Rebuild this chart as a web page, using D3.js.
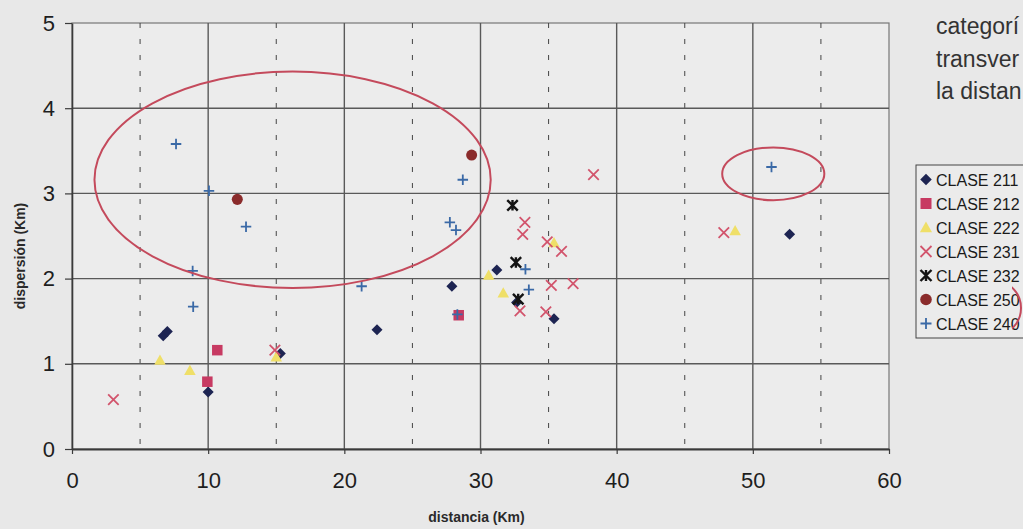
<!DOCTYPE html>
<html>
<head>
<meta charset="utf-8">
<script src="https://cdn.jsdelivr.net/npm/d3@7"></script>
<style>
  html, body { margin: 0; padding: 0; background: #e8e8e8; }
  svg { display: block; }
  text { font-family: "Liberation Sans", Arial, sans-serif; }
</style>
</head>
<body>
<svg id="chart" width="1023" height="529"></svg>
<script>
// Series: [distancia (Km), dispersión (Km)]
const clase211 = [[6.7,1.33],[7.0,1.38],[10.0,0.67],[15.3,1.12],[22.4,1.40],[27.9,1.91],[31.2,2.10],[32.65,1.72],[35.4,1.53],[52.7,2.52]];
const clase212 = [[9.94,0.79],[10.67,1.16],[28.4,1.57]];
const clase222 = [[6.46,1.04],[8.66,0.92],[15.0,1.08],[30.6,2.04],[31.67,1.83],[35.4,2.42],[48.7,2.56]];
const clase231 = [[3.04,0.58],[14.9,1.16],[32.9,1.62],[33.1,2.52],[33.26,2.66],[34.8,1.61],[34.9,2.43],[35.2,1.92],[35.95,2.32],[36.8,1.94],[38.3,3.22],[47.87,2.54]];
const clase232 = [[32.35,2.86],[32.6,2.19],[32.77,1.76]];
const clase250 = [[12.14,2.93],[29.35,3.45]];
const clase240 = [[7.64,3.58],[10.06,3.03],[12.78,2.61],[8.86,2.09],[8.9,1.67],[21.27,1.91],[27.75,2.66],[28.2,2.57],[28.7,3.16],[33.3,2.11],[33.55,1.87],[28.3,1.58],[51.37,3.31]];

const seriesNames = ["CLASE 211","CLASE 212","CLASE 222","CLASE 231","CLASE 232","CLASE 250","CLASE 240"];
const xTicks = [0,10,20,30,40,50,60];
const xMinorTicks = [5,15,25,35,45,55];
const yTicks = [0,1,2,3,4,5];
const sideText = ["categorí", "transver", "la distan"];

// Highlight ellipses: [cx, cy, rx, ry] in axis units
const groupEllipses = [[16.2,3.16,14.55,1.27],[51.5,3.23,3.75,0.31]];

const series = [
  {name: seriesNames[0], data: clase211, shape: "diamond", color: "#1d2452"},
  {name: seriesNames[1], data: clase212, shape: "square",  color: "#c73a62"},
  {name: seriesNames[2], data: clase222, shape: "triangle",color: "#efdf68"},
  {name: seriesNames[3], data: clase231, shape: "x",       color: "#d2546c"},
  {name: seriesNames[4], data: clase232, shape: "star",    color: "#141414"},
  {name: seriesNames[5], data: clase250, shape: "circle",  color: "#8a2b2b"},
  {name: seriesNames[6], data: clase240, shape: "plus",    color: "#3a69a6"}
];

const svg = d3.select("#chart");
const W = 1023, H = 529;
const M = {left: 72, right: 889, top: 23, bottom: 449};

const x = d3.scaleLinear().domain([0,60]).range([M.left, M.right]);
const y = d3.scaleLinear().domain([0,5]).range([M.bottom, M.top]);

svg.append("rect").attr("width", W).attr("height", H).attr("fill", "#e8e8e8");
svg.append("rect").attr("x", M.left).attr("y", M.top)
  .attr("width", M.right - M.left).attr("height", M.bottom - M.top)
  .attr("fill", "#ececec").attr("stroke", "#777").attr("stroke-width", 1.2);

// dashed minor verticals
svg.append("g").selectAll("line").data(xMinorTicks).join("line")
  .attr("x1", d => x(d)).attr("x2", d => x(d))
  .attr("y1", M.top).attr("y2", M.bottom)
  .attr("stroke", "#444").attr("stroke-width", 1)
  .attr("stroke-dasharray", "5,11");

// solid major verticals
svg.append("g").selectAll("line").data(xTicks.slice(1, -1)).join("line")
  .attr("x1", d => x(d)).attr("x2", d => x(d))
  .attr("y1", M.top).attr("y2", M.bottom)
  .attr("stroke", "#595959").attr("stroke-width", 1.4);

// horizontal gridlines
svg.append("g").selectAll("line").data(yTicks.slice(1, -1)).join("line")
  .attr("x1", M.left).attr("x2", M.right)
  .attr("y1", d => y(d)).attr("y2", d => y(d))
  .attr("stroke", "#595959").attr("stroke-width", 1.4);

// axes
const xAxis = svg.append("g").attr("transform", `translate(0,${M.bottom})`)
  .call(d3.axisBottom(x).tickValues(xTicks).tickFormat(d3.format("d")).tickSize(5).tickPadding(18).tickSizeOuter(0));
xAxis.select(".domain").attr("stroke", "#3a3a3a").attr("stroke-width", 2);
xAxis.selectAll(".tick line").attr("stroke", "#3a3a3a").attr("stroke-width", 1.2);
xAxis.selectAll(".tick text").attr("font-size", 22).attr("fill", "#1e1e1e")
  .style("font-family", "'Liberation Sans', Arial, sans-serif");

const yAxis = svg.append("g").attr("transform", `translate(${M.left},0)`)
  .call(d3.axisLeft(y).tickValues(yTicks).tickFormat(d3.format("d")).tickSize(7).tickPadding(10).tickSizeOuter(0));
yAxis.select(".domain").attr("stroke", "#3a3a3a").attr("stroke-width", 1.6);
yAxis.selectAll(".tick line").attr("stroke", "#3a3a3a").attr("stroke-width", 1.2);
yAxis.selectAll(".tick text").attr("font-size", 22).attr("fill", "#1e1e1e")
  .style("font-family", "'Liberation Sans', Arial, sans-serif");

// marker drawing
function drawMarker(g, shape, color, s) {
  const h = s / 2;
  if (shape === "diamond") {
    g.append("path").attr("d", `M0,${-h*1.05}L${h*1.05},0L0,${h*1.05}L${-h*1.05},0Z`).attr("fill", color);
  } else if (shape === "square") {
    g.append("rect").attr("x", -h).attr("y", -h).attr("width", s).attr("height", s).attr("fill", color);
  } else if (shape === "triangle") {
    g.append("path").attr("d", `M0,${-h*1.1}L${h*1.1},${h*0.85}L${-h*1.1},${h*0.85}Z`).attr("fill", color);
  } else if (shape === "circle") {
    g.append("circle").attr("r", h*1.05).attr("fill", color);
  } else if (shape === "x") {
    g.append("path").attr("d", `M${-h},${-h}L${h},${h}M${h},${-h}L${-h},${h}`)
      .attr("stroke", color).attr("stroke-width", 1.8).attr("fill", "none");
  } else if (shape === "star") {
    g.append("path").attr("d", `M${-h},${-h}L${h},${h}M${h},${-h}L${-h},${h}M0,${-h}L0,${h}`)
      .attr("stroke", color).attr("stroke-width", 2.4).attr("fill", "none");
  } else if (shape === "plus") {
    g.append("path").attr("d", `M${-h},0L${h},0M0,${-h}L0,${h}`)
      .attr("stroke", color).attr("stroke-width", 1.8).attr("fill", "none");
  }
}

const marks = svg.append("g");
series.forEach(sr => {
  sr.data.forEach(d => {
    const g = marks.append("g").attr("transform", `translate(${x(d[0])},${y(d[1])})`);
    drawMarker(g, sr.shape, sr.color, 10.5);
  });
});

// highlight ellipses
svg.append("g").selectAll("ellipse").data(groupEllipses).join("ellipse")
  .attr("cx", d => x(d[0])).attr("cy", d => y(d[1]))
  .attr("rx", d => x(d[2]) - x(0)).attr("ry", d => y(0) - y(d[3]))
  .attr("fill", "none").attr("stroke", "#c44a5c").attr("stroke-width", 2);

// axis titles
svg.append("text").attr("x", (M.left + M.right) / 2 - 4).attr("y", 522)
  .attr("text-anchor", "middle")
  .attr("font-weight", "bold").attr("font-size", 14).attr("fill", "#2a2a2a")
  .text("distancia (Km)");
svg.append("text").attr("transform", `translate(25,${(M.top + M.bottom) / 2 + 20}) rotate(-90)`)
  .attr("text-anchor", "middle")
  .attr("font-weight", "bold").attr("font-size", 14).attr("fill", "#2a2a2a")
  .text("dispersión (Km)");

// side text
svg.append("g").selectAll("text").data(sideText).join("text")
  .attr("x", 936).attr("y", (d, i) => 34 + i * 32.5)
  .attr("font-size", 23).attr("fill", "#333").text(d => d);

// legend
const lg = svg.append("g").attr("transform", "translate(916,165)");
lg.append("rect").attr("x", 0).attr("y", 0).attr("width", 130).attr("height", 173)
  .attr("fill", "#ebebeb").attr("stroke", "#444").attr("stroke-width", 1);
series.forEach((sr, i) => {
  const cy = 14.5 + i * 24;
  const g = lg.append("g").attr("transform", `translate(10,${cy})`);
  drawMarker(g, sr.shape, sr.color, 11);
  lg.append("text").attr("x", 20).attr("y", cy + 6)
    .attr("font-size", 16).attr("fill", "#1a1a1a").text(sr.name);
});

// partial outline at the legend's right edge
const clip = svg.append("clipPath").attr("id", "edgeclip");
clip.append("rect").attr("x", 1012).attr("y", 270).attr("width", 20).attr("height", 80);
svg.append("ellipse").attr("clip-path", "url(#edgeclip)")
  .attr("cx", 995).attr("cy", 308).attr("rx", 26).attr("ry", 27)
  .attr("fill", "none").attr("stroke", "#c44a5c").attr("stroke-width", 2);
</script>
</body>
</html>
